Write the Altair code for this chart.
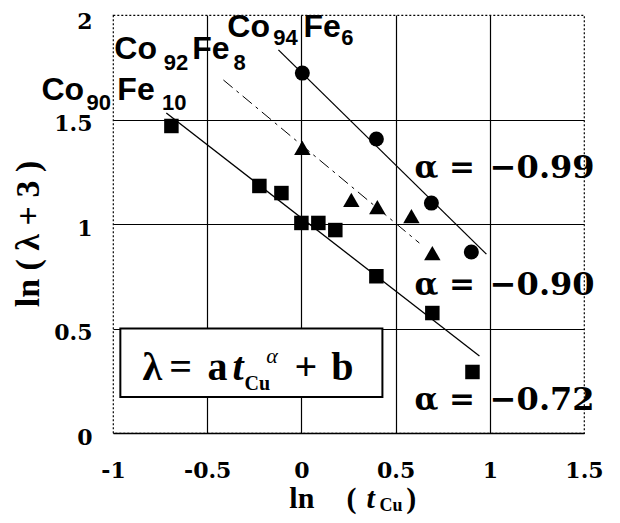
import altair as alt
import pandas as pd

# ---- data ----
sq_x = [-0.69, -0.223, -0.106, 0.0, 0.09, 0.18, 0.398, 0.695, 0.908]
sq_y = [1.469, 1.182, 1.148, 1.005, 1.005, 0.971, 0.750, 0.574, 0.292]
ci_x = [0.005, 0.398, 0.69, 0.902]
ci_y = [1.722, 1.407, 1.10, 0.866]
tr_x = [0.005, 0.265, 0.403, 0.584, 0.695]
tr_y = [1.364, 1.115, 1.081, 1.038, 0.861]

fit_ci_x = [-0.122, 0.982]
fit_ci_y = [1.833, 0.856]
fit_sq_x = [-0.717, 0.945]
fit_sq_y = [1.531, 0.368]
fit_tr_x = [-0.414, 0.626]
fit_tr_y = [1.689, 0.909]

x_ticks = [-1, -0.5, 0, 0.5, 1, 1.5]
y_ticks = [0, 0.5, 1, 1.5, 2]

# annotation texts
alloy_main = ["Co", "Fe", "Co", "Fe", "Co", "Fe"]
alloy_main_x = [-0.393, 0.011, -0.993, -0.579, -1.380, -0.977]
alloy_main_y = [1.895, 1.895, 1.789, 1.789, 1.593, 1.593]
alloy_sub = ["94", "6", "92", "8", "90", "10"]
alloy_sub_x = [-0.150, 0.211, -0.730, -0.360, -1.140, -0.740]
alloy_sub_y = [1.856, 1.856, 1.737, 1.737, 1.545, 1.545]

alpha_vals = ["\u22120.99", "\u22120.90", "\u22120.72"]
alpha_y = [1.22, 0.66, 0.11]
alpha_eq_x = 0.60
alpha_val_x = 1.0

box_x = [-0.961, 0.43]
box_y = [0.172, 0.5]

eq_main = ["\u03bb", "=", "a", "+", "b"]
eq_main_x = [-0.844, -0.701, -0.499, -0.037, 0.159]

X_SCALE = alt.Scale(domain=[-1, 1.5], nice=False, zero=False)
Y_SCALE = alt.Scale(domain=[0, 2], nice=False, zero=False)

X_AXIS = alt.Axis(
    values=x_ticks, labelExpr="'' + datum.value", labelFont="DejaVu Serif",
    labelFontWeight="bold", labelFontSize=22, labelColor="black",
    labelPadding=27, ticks=False, tickSize=0, domainColor="black",
    domainWidth=1.5, grid=True, gridColor="black", gridWidth=1.2,
    gridOpacity={"condition": {"test": "datum.value == -1 || datum.value == 1.5", "value": 0}, "value": 1},
    title=None, labelOverlap=False, labelFlush=False)
Y_AXIS = alt.Axis(
    values=y_ticks, labelExpr="'' + datum.value", labelFont="DejaVu Serif",
    labelFontWeight="bold", labelFontSize=22, labelColor="black",
    labelPadding=21,
    labelOffset={"condition": {"test": "datum.value == 2", "value": 6}, "value": 4},
    ticks=False, tickSize=0, domain=False,
    grid=True, gridColor="black", gridWidth=1.2,
    gridOpacity={"condition": {"test": "datum.value == 2", "value": 0}, "value": 1},
    title=None, labelOverlap=False, labelFlush=False)


def X(f="x"):
    return alt.X(f + ":Q", scale=X_SCALE, axis=X_AXIS)


def Y(f="y"):
    return alt.Y(f + ":Q", scale=Y_SCALE, axis=Y_AXIS)


def text_layer(xs, ys, texts, font, size, weight="bold", style="normal", angle=0,
               align="left", baseline="alphabetic"):
    df = pd.DataFrame({"x": xs, "y": ys, "t": texts})
    return alt.Chart(df).mark_text(
        font=font, fontSize=size, fontWeight=weight, fontStyle=style, angle=angle,
        align=align, baseline=baseline, color="black"
    ).encode(x=X(), y=Y(), text="t:N")


box = alt.Chart(pd.DataFrame({"x": [box_x[0]], "x2": [box_x[1]], "y": [box_y[0]], "y2": [box_y[1]]})).mark_rect(
    fill="white", stroke="black", strokeWidth=2
).encode(x=X(), x2="x2:Q", y=Y(), y2="y2:Q")

line_ci = alt.Chart(pd.DataFrame({"x": fit_ci_x, "y": fit_ci_y})).mark_line(
    color="black", strokeWidth=1.3).encode(x=X(), y=Y())
line_sq = alt.Chart(pd.DataFrame({"x": fit_sq_x, "y": fit_sq_y})).mark_line(
    color="black", strokeWidth=1.3).encode(x=X(), y=Y())
line_tr = alt.Chart(pd.DataFrame({"x": fit_tr_x, "y": fit_tr_y})).mark_line(
    color="black", strokeWidth=1, strokeDash=[12, 5, 3, 5]).encode(x=X(), y=Y())

pts_sq = alt.Chart(pd.DataFrame({"x": sq_x, "y": sq_y})).mark_point(
    shape="square", filled=True, size=210, color="black", opacity=1).encode(x=X(), y=Y())
pts_ci = alt.Chart(pd.DataFrame({"x": ci_x, "y": ci_y})).mark_point(
    shape="circle", filled=True, size=225, color="black", opacity=1).encode(x=X(), y=Y())
pts_tr = alt.Chart(pd.DataFrame({"x": tr_x, "y": tr_y})).mark_point(
    shape="triangle-up", filled=True, size=270, color="black", opacity=1).encode(x=X(), y=Y())

alloy_big = text_layer(alloy_main_x, alloy_main_y, alloy_main, "Liberation Sans", 32)
alloy_small = text_layer(alloy_sub_x, alloy_sub_y, alloy_sub, "Liberation Sans", 22)

alpha_eq = text_layer([alpha_eq_x] * 3, alpha_y, ["\u03b1 ="] * 3, "DejaVu Serif", 31)
alpha_num = text_layer([alpha_val_x] * 3, alpha_y, alpha_vals, "DejaVu Serif", 32)

eq1 = text_layer(eq_main_x, [0.254] * 5, eq_main, "Liberation Serif", 40)
eq_t = text_layer([-0.366], [0.254], ["t"], "Liberation Serif", 40, style="italic")
eq_cu = text_layer([-0.302], [0.206], ["Cu"], "Liberation Serif", 20)
eq_a = text_layer([-0.186], [0.335], ["\u03b1"], "Liberation Serif", 22, weight="normal", style="italic")

ytitle = text_layer([-1.444], [0.952], ["ln ( \u03bb + 3 )"], "Liberation Serif", 34, angle=270,
                    align="center", baseline="middle")
xt_main = text_layer([-0.064, 0.239, 0.557], [-0.359] * 3, ["ln", "(", ")"], "Liberation Serif", 30)
xt_t = text_layer([0.345], [-0.359], ["t"], "Liberation Serif", 30, style="italic")
xt_cu = text_layer([0.415], [-0.373], ["Cu"], "Liberation Serif", 18)

chart = alt.layer(
    box, line_ci, line_sq, line_tr, pts_sq, pts_ci, pts_tr,
    alloy_big, alloy_small, alpha_eq, alpha_num,
    eq1, eq_t, eq_cu, eq_a, ytitle, xt_main, xt_t, xt_cu
).properties(
    width=471, height=418,
    autosize=alt.AutoSizeParams(type="none"),
    padding={"left": 105, "top": 7, "right": 24, "bottom": 82},
    background="white"
).configure_view(
    stroke="black", strokeDash=[2, 2], strokeWidth=1.2
)

chart.save("out.html", embed_options={"renderer": "svg", "actions": False})
